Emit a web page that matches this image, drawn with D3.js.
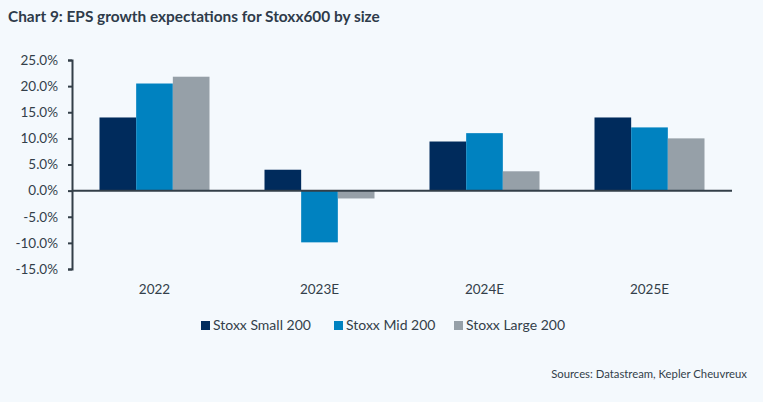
<!DOCTYPE html>
<html>
<head>
<meta charset="utf-8">
<script src="https://cdn.jsdelivr.net/npm/d3@7"></script>
<style>
  html, body { margin: 0; padding: 0; background: #f4f9fd; }
  svg { display: block; font-family: "Lato", "Noto Sans", sans-serif; }
</style>
</head>
<body>
<svg id="chart" width="763" height="402"></svg>
<script>
// data
const categories = ["2022", "2023E", "2024E", "2025E"];
const seriesNames = ["Stoxx Small 200", "Stoxx Mid 200", "Stoxx Large 200"];
const smallValues = [14.0, 4.0, 9.4, 14.0];
const midValues = [20.5, -9.9, 11.0, 12.1];
const largeValues = [21.8, -1.5, 3.7, 10.0];
const yTicks = [25, 20, 15, 10, 5, 0, -5, -10, -15];
const colors = ["#002b5c", "#0082c0", "#96a0a8"];

const seriesValues = [smallValues, midValues, largeValues];
const rows = categories.map((c, i) => ({
  cat: c,
  vals: seriesValues.map((s, j) => ({ key: seriesNames[j], v: s[i] }))
}));

const svg = d3.select("#chart");
const textColor = "#333f4a";

// title
svg.append("text")
  .attr("x", 8).attr("y", 22)
  .attr("font-size", 15.4).attr("font-weight", 700)
  .attr("fill", "#2e3b4a")
  .text("Chart 9: EPS growth expectations for Stoxx600 by size");

const x0 = d3.scaleBand()
  .domain(categories)
  .range([72, 732])
  .paddingInner(1 / 3)
  .paddingOuter(1 / 6);

const x1 = d3.scaleBand()
  .domain(seriesNames)
  .range([0, x0.bandwidth()]);

const y = d3.scaleLinear()
  .domain([-15, 25])
  .range([269, 60]);

// bars
const groups = svg.append("g").selectAll("g")
  .data(rows)
  .join("g")
  .attr("transform", d => `translate(${x0(d.cat)},0)`);

groups.selectAll("rect")
  .data(d => d.vals)
  .join("rect")
  .attr("x", d => x1(d.key))
  .attr("width", x1.bandwidth())
  .attr("y", d => y(Math.max(0, d.v)))
  .attr("height", d => Math.abs(y(d.v) - y(0)))
  .attr("fill", (d, i) => colors[i]);

// y axis
const yAxis = svg.append("g")
  .attr("transform", "translate(72,0)")
  .call(d3.axisLeft(y).tickValues(yTicks).tickSize(4).tickSizeOuter(4)
    .tickFormat(d => d.toFixed(1) + "%"));
yAxis.select(".domain").attr("stroke", "#333f48").attr("stroke-width", 2);
yAxis.selectAll(".tick line").attr("stroke", "#333f48").attr("stroke-width", 2);
yAxis.selectAll(".tick text")
  .attr("x", -14)
  .attr("font-size", 13.5)
  .attr("font-family", "Lato, sans-serif")
  .attr("fill", textColor);

// zero line
svg.append("line")
  .attr("x1", 72).attr("x2", 732)
  .attr("y1", y(0)).attr("y2", y(0))
  .attr("stroke", "#333f48").attr("stroke-width", 2);

// category labels
svg.append("g").selectAll("text")
  .data(categories)
  .join("text")
  .attr("x", d => x0(d) + x0.bandwidth() / 2)
  .attr("y", 294)
  .attr("text-anchor", "middle")
  .attr("font-size", 13.5)
  .attr("fill", textColor)
  .text(d => d);

// legend
const legendX = [201, 334, 454];
const legend = svg.append("g").selectAll("g")
  .data(seriesNames)
  .join("g")
  .attr("transform", (d, i) => `translate(${legendX[i]},321)`);
legend.append("rect")
  .attr("width", 9).attr("height", 9)
  .attr("fill", (d, i) => colors[i]);
legend.append("text")
  .attr("x", 12).attr("y", 9)
  .attr("font-size", 14)
  .attr("fill", textColor)
  .text(d => d);

// source
svg.append("text")
  .attr("x", 747).attr("y", 378)
  .attr("text-anchor", "end")
  .attr("font-size", 11.3)
  .attr("fill", textColor)
  .text("Sources: Datastream, Kepler Cheuvreux");
</script>
</body>
</html>
